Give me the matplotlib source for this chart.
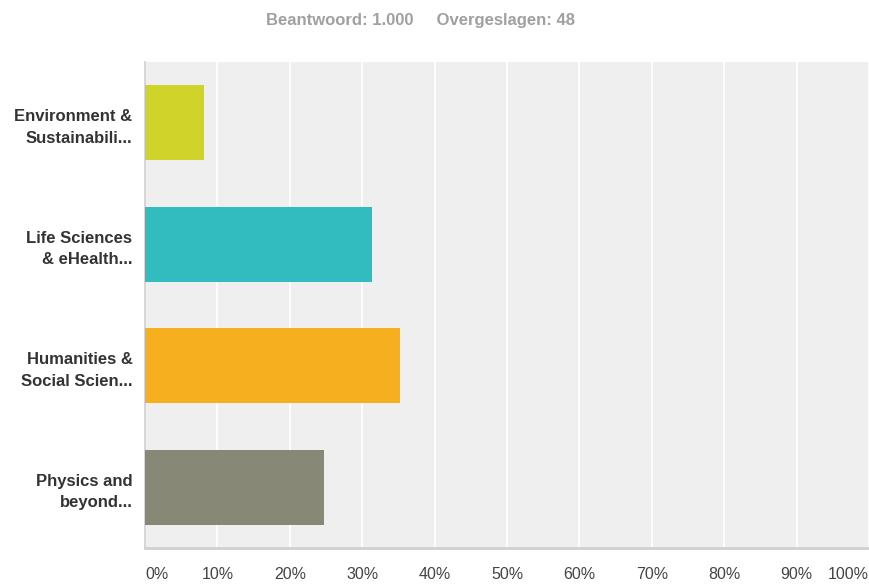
import matplotlib
matplotlib.use("Agg")
import matplotlib.pyplot as plt

categories = ["Environment &\nSustainabili...", "Life Sciences\n& eHealth...",
              "Humanities &\nSocial Scien...", "Physics and\nbeyond..."]
values = [8.2, 31.4, 35.2, 24.7]
colors = ["#d0d329", "#33bcbf", "#f6af1f", "#888877"]
xticks = [0, 10, 20, 30, 40, 50, 60, 70, 80, 90, 100]
xticklabels = ["0%", "10%", "20%", "30%", "40%", "50%", "60%", "70%", "80%", "90%", "100%"]
header = "Beantwoord: 1.000     Overgeslagen: 48"

plt.rcParams['font.family'] = ['Liberation Sans', 'DejaVu Sans']

fig = plt.figure(figsize=(8.7, 5.84), dpi=100)
ax = fig.add_axes([145/870, 36/584, 724/870, 486/584])
ax.set_facecolor("#efefef")

ypos = list(range(len(categories)))
ax.barh(ypos, values, height=0.62, color=colors, zorder=3)
ax.set_ylim(len(categories) - 0.5, -0.5)
ax.set_xlim(0, 100)

ax.set_xticks(xticks)
ax.set_xticklabels(xticklabels, fontsize=11.5, color="#444444")
tl = ax.get_xticklabels()
tl[0].set_ha("left")
tl[-1].set_ha("right")
ax.tick_params(axis="x", length=0, pad=14)
ax.grid(axis="x", color="white", linewidth=1.2, zorder=1)

ax.set_yticks(ypos)
ax.set_yticklabels(categories, fontsize=12, fontweight="bold", color="#333333", linespacing=1.55)
ax.tick_params(axis="y", length=0, pad=9)

for s in ["top", "right"]:
    ax.spines[s].set_visible(False)
ax.spines["left"].set_color("#cfcfcf")
ax.spines["left"].set_linewidth(1.2)
ax.spines["bottom"].set_color("#d0d0d0")
ax.spines["bottom"].set_linewidth(2)

fig.text(421/870, 1 - 20/584, header, ha="center", va="center", fontsize=12,
         fontweight="bold", color="#a0a0a0")

fig.savefig("out.png", dpi=100, facecolor="white")
